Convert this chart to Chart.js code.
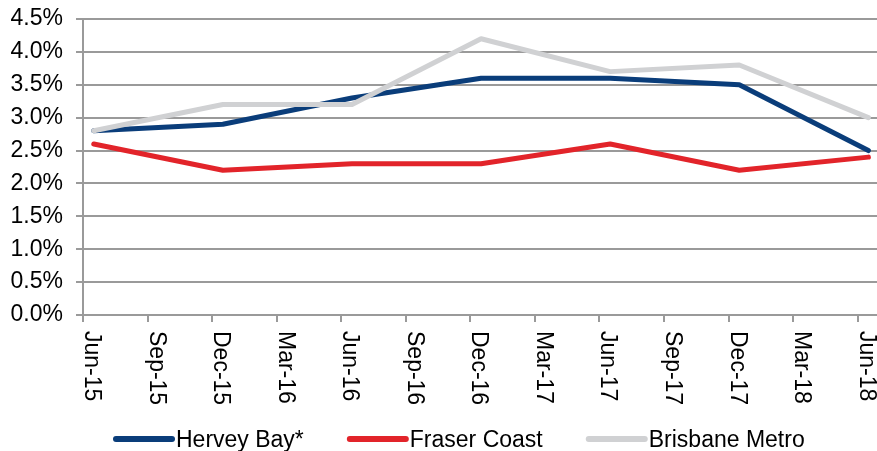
<!DOCTYPE html>
<html>
<head>
<meta charset="utf-8">
<script src="https://cdn.jsdelivr.net/npm/chart.js@4/dist/chart.umd.min.js"></script>
<style>
  html, body { margin: 0; padding: 0; background: #fff; }
  #wrap { position: relative; width: 877px; height: 451px; }
</style>
</head>
<body>
<div id="wrap"><canvas id="c"></canvas></div>
<script>
// ---- data ----
const tickLabels = ['Jun-15','Sep-15','Dec-15','Mar-16','Jun-16','Sep-16','Dec-16','Mar-17','Jun-17','Sep-17','Dec-17','Mar-18','Jun-18'];
const periods = ['Jun-15','Dec-15','Jun-16','Dec-16','Jun-17','Dec-17','Jun-18'];
const seriesNames = ['Hervey Bay*', 'Fraser Coast', 'Brisbane Metro'];
const herveyBay = [2.8, 2.9, 3.3, 3.6, 3.6, 3.5, 2.5];
const fraserCoast = [2.6, 2.2, 2.3, 2.3, 2.6, 2.2, 2.4];
const brisbaneMetro = [2.8, 3.2, 3.2, 4.2, 3.7, 3.8, 3.0];
const yMin = 0, yMax = 4.5, yStep = 0.5;

// month offset (from Jun-15) of each period, observations at mid-month
const monthOf = p => tickLabels.indexOf(p) * 3 + 0.5;
const toPoints = vals => periods.map((p, i) => ({ x: monthOf(p), y: vals[i] }));

const colors = ['#0a3d7a', '#e2242a', '#d0d1d3'];
const FONT = '"Liberation Sans", Arial, Helvetica, sans-serif';
const GRID = '#9a9a9a';

const customText = {
  id: 'customText',
  afterDraw(chart) {
    const ctx = chart.ctx;
    const xs = chart.scales.x;
    ctx.save();
    ctx.fillStyle = '#000';
    ctx.font = '23px ' + FONT;
    // rotated x labels (reading top to bottom)
    tickLabels.forEach((lab, i) => {
      const px = xs.getPixelForValue(i * 3) + 2;
      ctx.save();
      ctx.translate(px, xs.top + 16);
      ctx.rotate(Math.PI / 2);
      ctx.textAlign = 'left';
      ctx.textBaseline = 'alphabetic';
      ctx.fillText(lab, 0, 0);
      ctx.restore();
    });
    // legend
    const lineLen = 56, gap = 4, spacing = 46;
    let x = 116;
    const y = 439;
    chart.data.datasets.forEach((ds, i) => {
      ctx.strokeStyle = ds.borderColor;
      ctx.lineWidth = 6;
      ctx.lineCap = 'round';
      ctx.beginPath();
      ctx.moveTo(x, y);
      ctx.lineTo(x + lineLen, y);
      ctx.stroke();
      ctx.textAlign = 'left';
      ctx.textBaseline = 'alphabetic';
      ctx.fillText(ds.label, x + lineLen + gap, 447);
      x += lineLen + gap + ctx.measureText(ds.label).width + spacing;
    });
    ctx.restore();
  }
};

const mk = (i, vals, order) => ({
  label: seriesNames[i],
  data: toPoints(vals),
  borderColor: colors[i],
  backgroundColor: colors[i],
  borderWidth: 5,
  pointRadius: 0,
  tension: 0,
  borderCapStyle: 'round',
  borderJoinStyle: 'round',
  clip: false,
  order: order
});

new Chart(document.getElementById('c'), {
  type: 'line',
  data: {
    datasets: [
      mk(0, herveyBay, 2),
      mk(1, fraserCoast, 1),
      mk(2, brisbaneMetro, 0)
    ]
  },
  options: {
    responsive: true,
    maintainAspectRatio: false,
    animation: false,
    events: [],
    layout: { padding: { top: 19, right: 0, bottom: 0, left: 0 } },
    plugins: { legend: { display: false }, tooltip: { enabled: false } },
    scales: {
      x: {
        type: 'linear',
        min: 0,
        max: 36.9,
        afterBuildTicks: s => { s.ticks = tickLabels.map((_, i) => ({ value: i * 3 })); },
        afterFit: s => { s.height = 136; s.paddingLeft = 0; s.paddingRight = 0; },
        ticks: { display: false },
        grid: { display: true, drawOnChartArea: false, drawTicks: true, tickLength: 7, color: GRID, lineWidth: 2 },
        border: { display: true, color: GRID, width: 2 }
      },
      y: {
        min: yMin,
        max: yMax,
        afterFit: s => { s.width = 83; s.paddingTop = 0; s.paddingBottom = 0; },
        ticks: {
          stepSize: yStep,
          padding: 13,
          color: '#000',
          font: { family: FONT, size: 23 },
          callback: v => v.toFixed(1) + '%'
        },
        grid: { color: GRID, lineWidth: 2, tickLength: 7, drawTicks: true },
        border: { display: true, color: GRID, width: 2 }
      }
    }
  },
  plugins: [customText]
});
</script>
</body>
</html>
